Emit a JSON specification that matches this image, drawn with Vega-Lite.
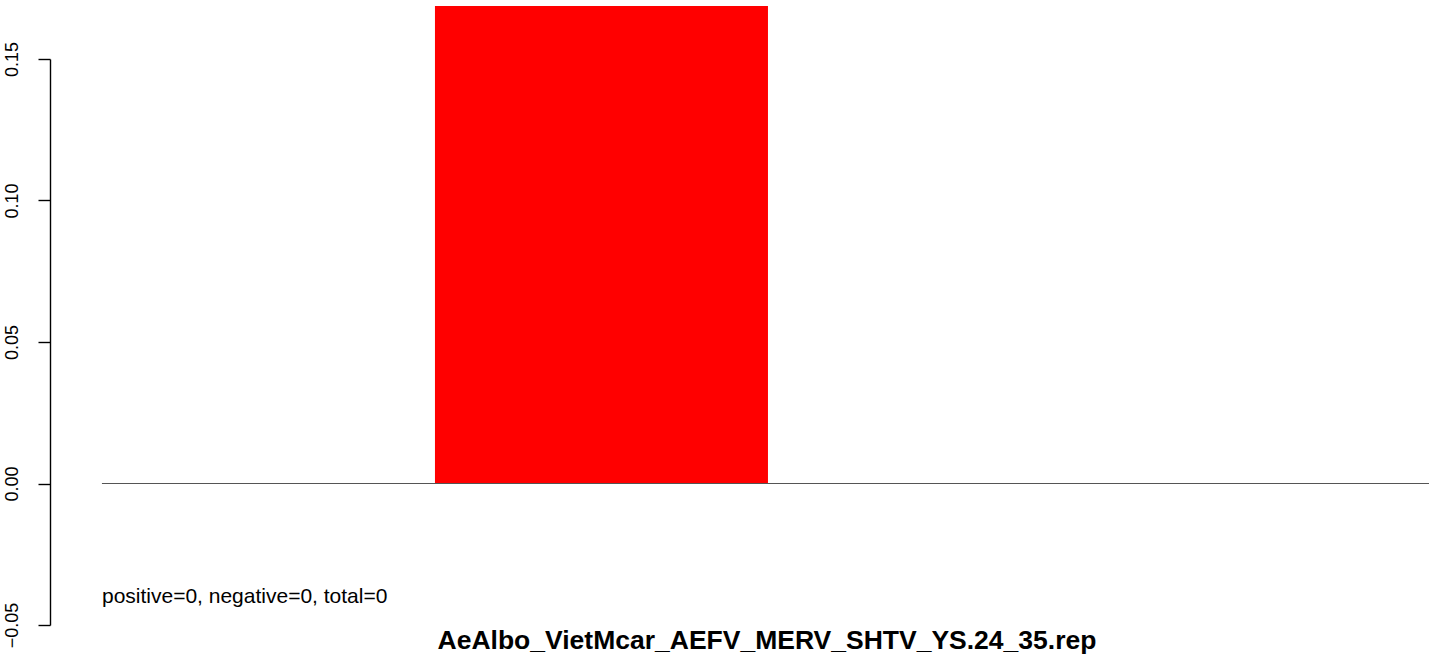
{
  "$schema": "https://vega.github.io/schema/vega-lite/v6.json",
  "autosize": "none",
  "width": 1379,
  "height": 566,
  "padding": {"left": 50, "top": 59, "right": 0, "bottom": 31},
  "background": "white",
  "config": {
    "view": {"stroke": null},
    "font": "Liberation Sans",
    "axis": {"labelFont": "Liberation Sans", "titleFont": "Liberation Sans"}
  },
  "datasets": {
    "bars": [{"start": 1.2, "end": 2.2, "value": 0.1687}],
    "zero": [{"from": 0.2, "to": 4.185, "y": 0}],
    "note": [{"x": 0.2, "y": -0.0422, "label": "positive=0, negative=0, total=0"}],
    "heading": [{"x": 2.197, "y": -0.0584, "label": "AeAlbo_VietMcar_AEFV_MERV_SHTV_YS.24_35.rep"}]
  },
  "layer": [
    {
      "data": {"name": "bars"},
      "mark": {"type": "rect", "color": "#ff0000"},
      "encoding": {
        "x": {"field": "start", "type": "quantitative", "scale": {"domain": [0.044, 4.185], "nice": false, "zero": false}, "axis": null},
        "x2": {"field": "end"},
        "y": {"field": "value", "type": "quantitative", "scale": {"domain": [-0.05, 0.15], "nice": false, "zero": false},
          "axis": {
            "values": [-0.05, 0, 0.05, 0.1, 0.15],
            "format": ".2f",
            "title": null,
            "grid": false,
            "domain": true,
            "domainColor": "black",
            "domainWidth": 1.4,
            "tickColor": "black",
            "tickWidth": 1.4,
            "tickSize": 12,
            "labelAngle": -90,
            "labelAlign": "center",
            "labelBaseline": "alphabetic",
            "labelPadding": 21,
            "labelFontSize": 18,
            "labelColor": "black",
            "labelFlush": false,
            "labelOverlap": false
          }
        },
        "y2": {"datum": 0}
      }
    },
    {
      "data": {"name": "zero"},
      "mark": {"type": "rule", "color": "#555555", "strokeWidth": 1},
      "encoding": {
        "x": {"field": "from", "type": "quantitative"},
        "x2": {"field": "to"},
        "y": {"field": "y", "type": "quantitative"}
      }
    },
    {
      "data": {"name": "note"},
      "mark": {"type": "text", "align": "left", "baseline": "alphabetic", "fontSize": 21, "color": "black", "font": "Liberation Sans"},
      "encoding": {
        "x": {"field": "x", "type": "quantitative"},
        "y": {"field": "y", "type": "quantitative"},
        "text": {"field": "label"}
      }
    },
    {
      "data": {"name": "heading"},
      "mark": {"type": "text", "align": "center", "baseline": "alphabetic", "fontSize": 26.5, "fontWeight": "bold", "color": "black", "font": "Liberation Sans"},
      "encoding": {
        "x": {"field": "x", "type": "quantitative"},
        "y": {"field": "y", "type": "quantitative"},
        "text": {"field": "label"}
      }
    }
  ]
}
